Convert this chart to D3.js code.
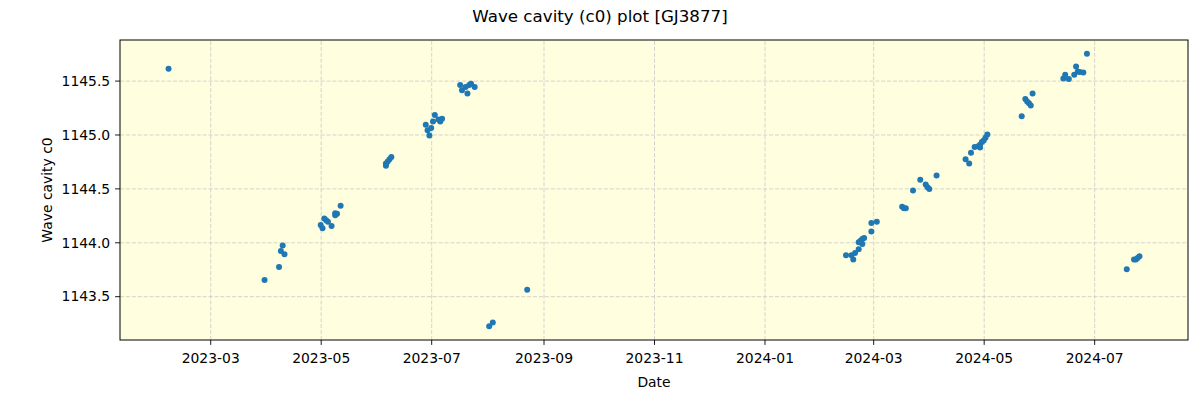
<!DOCTYPE html>
<html>
<head>
<meta charset="utf-8">
<script src="https://cdn.jsdelivr.net/npm/d3@7"></script>
<style>
  html, body { margin: 0; padding: 0; background: #ffffff; }
  svg { display: block; font-family: "DejaVu Sans", sans-serif; }
</style>
</head>
<body>
<svg id="chart" width="1200" height="400"></svg>
<script>
// ---- data ----
const dates = [
  "2023-02-06",
  "2023-03-31","2023-04-08","2023-04-09","2023-04-10","2023-04-11",
  "2023-05-01","2023-05-02","2023-05-03","2023-05-04","2023-05-05","2023-05-07",
  "2023-05-09","2023-05-10","2023-05-09","2023-05-12",
  "2023-06-06","2023-06-06","2023-06-07","2023-06-08","2023-06-09",
  "2023-06-28","2023-06-29","2023-06-30","2023-07-01","2023-07-02","2023-07-03",
  "2023-07-05","2023-07-06","2023-07-07",
  "2023-07-17","2023-07-18","2023-07-20","2023-07-21","2023-07-22","2023-07-23","2023-07-25",
  "2023-08-02","2023-08-04","2023-08-23",
  "2024-02-15","2024-02-18","2024-02-19","2024-02-20","2024-02-22","2024-02-22",
  "2024-02-23","2024-02-24","2024-02-24","2024-02-25","2024-02-29","2024-02-29","2024-03-03",
  "2024-03-17","2024-03-18","2024-03-19","2024-03-23","2024-03-27",
  "2024-03-30","2024-03-31","2024-04-01","2024-04-05",
  "2024-04-21","2024-04-23","2024-04-24","2024-04-26","2024-04-28","2024-04-29",
  "2024-04-29","2024-04-30","2024-05-01","2024-05-02","2024-05-03",
  "2024-05-22","2024-05-24","2024-05-25","2024-05-26","2024-05-27","2024-05-28",
  "2024-06-14","2024-06-15","2024-06-17","2024-06-20","2024-06-21","2024-06-22",
  "2024-06-23","2024-06-25","2024-06-27",
  "2024-07-19","2024-07-23","2024-07-24","2024-07-25","2024-07-26"
];
const c0 = [
  1145.61,
  1143.65,1143.77,1143.92,1143.97,1143.89,
  1144.16,1144.13,1144.22,1144.205,1144.19,1144.15,
  1144.27,1144.265,1144.25,1144.34,
  1144.71,1144.73,1144.75,1144.77,1144.79,
  1145.09,1145.04,1144.99,1145.06,1145.12,1145.18,
  1145.14,1145.12,1145.145,
  1145.46,1145.41,1145.44,1145.38,1145.46,1145.47,1145.44,
  1143.22,1143.255,1143.56,
  1143.88,1143.88,1143.84,1143.90,1143.935,1144.0,
  1144.015,1144.03,1143.985,1144.04,1144.10,1144.18,1144.19,
  1144.33,1144.315,1144.315,1144.48,1144.58,
  1144.535,1144.51,1144.495,1144.62,
  1144.77,1144.73,1144.83,1144.885,1144.89,1144.88,
  1144.905,1144.93,1144.945,1144.97,1145.00,
  1145.17,1145.33,1145.305,1145.29,1145.27,1145.38,
  1145.52,1145.555,1145.515,1145.555,1145.63,1145.585,
  1145.58,1145.575,1145.75,
  1143.75,1143.84,1143.84,1143.855,1143.87
];
const yTicks = [1143.5, 1144.0, 1144.5, 1145.0, 1145.5];
const titleText = "Wave cavity (c0) plot [GJ3877]";
const xLabel = "Date";
const yLabel = "Wave cavity c0";

// ---- layout ----
const W = 1200, H = 400;
const m = { left: 120, top: 40, right: 12, bottom: 60 };
const iw = W - m.left - m.right;   // 1068
const ih = H - m.top - m.bottom;   // 300

const parse = d3.timeParse("%Y-%m-%d");
const data = dates.map((d, i) => ({ t: parse(d), v: c0[i] }));

// matplotlib-like 5% margins
const [t0, t1] = d3.extent(data, d => d.t);
const tpad = (t1 - t0) * 0.05;
const [v0, v1] = d3.extent(data, d => d.v);
const vpad = (v1 - v0) * 0.05;

const x = d3.scaleTime()
  .domain([new Date(+t0 - tpad), new Date(+t1 + tpad)])
  .range([0, iw]);
const y = d3.scaleLinear()
  .domain([v0 - vpad, v1 + vpad])
  .range([ih, 0]);

const svg = d3.select("#chart");
svg.append("rect").attr("width", W).attr("height", H).attr("fill", "#ffffff");

const g = svg.append("g").attr("transform", `translate(${m.left},${m.top})`);

g.append("rect").attr("width", iw).attr("height", ih).attr("fill", "#ffffe0");

const xTickVals = x.ticks(d3.timeMonth.every(2));

// grid
const gridX = g.append("g").attr("transform", `translate(0,${ih})`)
  .call(d3.axisBottom(x).tickValues(xTickVals).tickSize(-ih).tickFormat(""));
const gridY = g.append("g")
  .call(d3.axisLeft(y).tickValues(yTicks).tickSize(-iw).tickFormat(""));
[gridX, gridY].forEach(gr => {
  gr.select(".domain").remove();
  gr.selectAll("line")
    .attr("stroke", "#c8c8c8")
    .attr("stroke-width", 0.8)
    .attr("stroke-dasharray", "4.1,1.8");
});

// points
g.append("g").selectAll("circle").data(data).join("circle")
  .attr("cx", d => x(d.t))
  .attr("cy", d => y(d.v))
  .attr("r", 3)
  .attr("fill", "#1f77b4");

// frame
g.append("rect").attr("width", iw).attr("height", ih)
  .attr("fill", "none").attr("stroke", "#000").attr("stroke-width", 1);

// axes
const xAxis = g.append("g").attr("transform", `translate(0,${ih})`)
  .call(d3.axisBottom(x).tickValues(xTickVals).tickSize(4.9).tickPadding(4.9)
    .tickFormat(d3.timeFormat("%Y-%m")));
const yAxis = g.append("g")
  .call(d3.axisLeft(y).tickValues(yTicks).tickSize(4.9).tickPadding(4.9)
    .tickFormat(d3.format(".1f")));
[xAxis, yAxis].forEach(a => {
  a.select(".domain").remove();
  a.selectAll("line").attr("stroke", "#000").attr("stroke-width", 0.9);
  a.selectAll("text")
    .attr("fill", "#000")
    .style("font-family", "'DejaVu Sans', sans-serif")
    .style("font-size", "13.9px");
});
xAxis.selectAll("text").attr("y", 9.8).attr("dy", "0.95em");
yAxis.selectAll("text").attr("dy", "0.34em");

// labels
svg.append("text")
  .attr("x", W / 2).attr("y", 22)
  .attr("text-anchor", "middle")
  .style("font-size", "16.7px")
  .attr("fill", "#000")
  .text(titleText);

svg.append("text")
  .attr("x", m.left + iw / 2).attr("y", 387)
  .attr("text-anchor", "middle")
  .style("font-size", "13.9px")
  .attr("fill", "#000")
  .text(xLabel);

svg.append("text")
  .attr("transform", `translate(52,${m.top + ih / 2}) rotate(-90)`)
  .attr("text-anchor", "middle")
  .style("font-size", "13.9px")
  .attr("fill", "#000")
  .text(yLabel);
</script>
</body>
</html>
